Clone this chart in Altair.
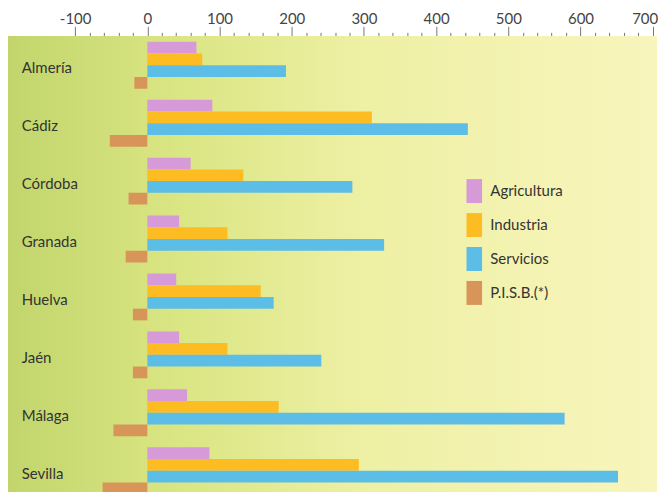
import altair as alt
import pandas as pd

provinces = ["Almería", "Cádiz", "Córdoba", "Granada", "Huelva", "Jaén", "Málaga", "Sevilla"]
series = ["Agricultura", "Industria", "Servicios", "P.I.S.B.(*)"]
agricultura = [68, 90, 60, 44, 40, 44, 55, 86]
industria = [76, 311, 133, 111, 157, 111, 182, 293]
servicios = [192, 444, 284, 328, 175, 241, 578, 652]
pisb = [-18, -52, -26, -30, -20, -20, -47, -62]
colors = ["#d69ad8", "#fdbd22", "#5cbde6", "#d8955a"]
x_ticks = list(range(-100, 701, 20))

rows = []
for i, p in enumerate(provinces):
    for s, vals in zip(series, [agricultura, industria, servicios, pisb]):
        rows.append({"province": p, "series": s, "value": vals[i]})
df = pd.DataFrame(rows)
names = pd.DataFrame({"province": provinces})

xscale = alt.Scale(domain=[-193, 706], nice=False, zero=False)
yscale = alt.Scale(domain=provinces, paddingInner=0, paddingOuter=0)

xaxis = alt.Axis(
    orient="top",
    title=None,
    values=x_ticks,
    labelExpr="datum.value % 100 === 0 ? toString(datum.value) : ''",
    labelOverlap=False,
    labelBound=False,
    labelFlush=False,
    labelSeparation=0,
    labelOffset={"condition": {"test": "datum.value === 700", "value": -8}, "value": 0},
    tickSize={"condition": {"test": "datum.value % 100 === 0", "value": 10}, "value": 4},
    tickColor="#777777",
    tickWidth=1,
    labelPadding=0,
    labelFont="Lato",
    labelFontSize=15,
    labelColor="#444444",
    domain=False,
    grid=True,
    gridColor="white",
    gridOpacity={"condition": {"test": "datum.value >= 0 && datum.value % 100 === 0", "value": 0.85}, "value": 0},
    gridWidth={"condition": {"test": "datum.value === 0", "value": 2.5}, "value": 1},
)
yaxis = alt.Axis(
    title=None, labels=False, ticks=False, domain=False,
    grid=True, bandPosition=0, gridColor="white", gridOpacity=0.55, gridDash=[3, 2],
)

bg = alt.Chart(names).mark_rect(
    fill=alt.LinearGradient(
        gradient="linear", x1=0, x2=1, y1=0, y2=0,
        stops=[
            alt.GradientStop(offset=0, color="#c2d56c"),
            alt.GradientStop(offset=0.25, color="#d9e582"),
            alt.GradientStop(offset=0.55, color="#eef0a4"),
            alt.GradientStop(offset=1, color="#f8f5bd"),
        ],
    )
).encode(x=alt.value(0), x2=alt.value("width"), y=alt.value(0), y2=alt.value("height"))

bars = alt.Chart(df).mark_bar().encode(
    x=alt.X("value:Q", scale=xscale, axis=xaxis),
    y=alt.Y("province:N", sort=provinces, scale=yscale, axis=yaxis),
    yOffset=alt.YOffset("series:N", sort=series, scale=alt.Scale(domain=series, paddingInner=0, paddingOuter=0.47)),
    color=alt.Color(
        "series:N",
        sort=series,
        scale=alt.Scale(domain=series, range=colors),
        legend=alt.Legend(
            title=None,
            orient="none",
            legendX=455,
            legendY=143,
            symbolType="M-0.65,-1H0.65V1H-0.65Z",
            symbolSize=576,
            symbolStrokeWidth=0,
            symbolOpacity=1,
            labelFont="Lato",
            labelFontSize=15,
            labelColor="#333333",
            labelOffset=4,
            rowPadding=10,
        ),
    ),
)

labels = alt.Chart(names).mark_text(
    align="left", baseline="middle", font="Lato", fontSize=15, color="#333333", dy=3
).encode(
    x=alt.X(datum=-174, scale=xscale, axis=xaxis),
    y=alt.Y("province:N", sort=provinces, scale=yscale, axis=yaxis),
    text="province:N",
)

chart = alt.layer(bg, bars, labels).properties(
    width=650, height=464, padding={"top": 3, "left": 0, "right": 0, "bottom": 0}
).configure_view(stroke=None)

chart.save("out.html", embed_options={"renderer": "svg", "actions": False})
